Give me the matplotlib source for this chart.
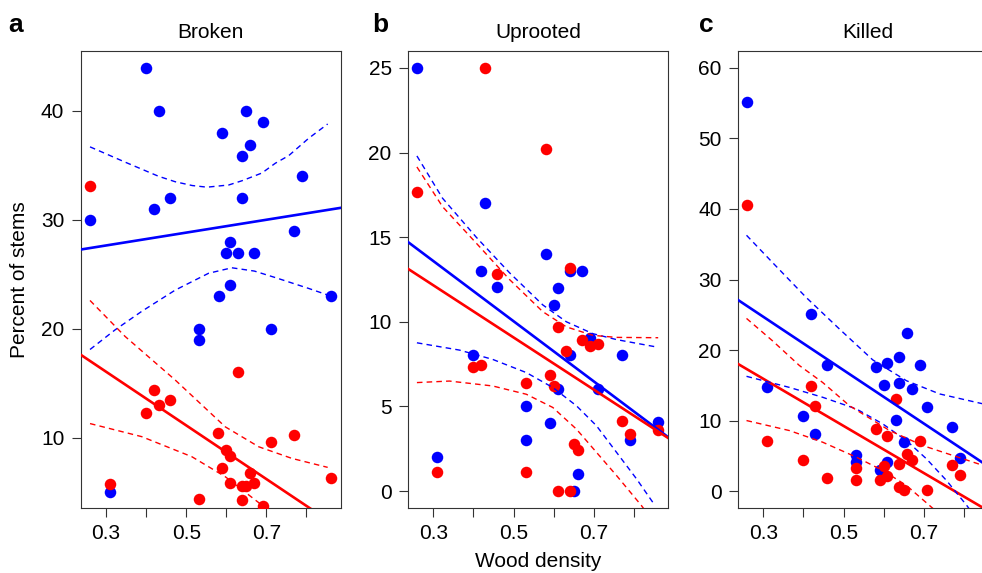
import matplotlib
matplotlib.use("Agg")
import matplotlib.pyplot as plt

plt.rcParams['font.family'] = ['Liberation Sans', 'DejaVu Sans']

BLUE = '#0000FF'
RED = '#FF0000'

# ---------------- Data ----------------
titles = ['Broken', 'Uprooted', 'Killed']
panel_letters = ['a', 'b', 'c']
x_ticks = [0.3, 0.4, 0.5, 0.6, 0.7, 0.8]
x_ticklabels = ['0.3', '', '0.5', '', '0.7', '']

# Panel a: Broken
a_blue_x = [0.399, 0.431, 0.65, 0.691, 0.59, 0.66, 0.64, 0.79, 0.46, 0.64, 0.419, 0.259,
            0.77, 0.61, 0.60, 0.63, 0.67, 0.61, 0.581, 0.861, 0.531, 0.531, 0.711, 0.31]
a_blue_y = [43.9, 40.0, 40.0, 39.0, 38.0, 36.9, 35.9, 34.0, 32.0, 32.0, 31.0, 30.0,
            29.0, 28.0, 27.0, 27.0, 27.0, 24.0, 23.0, 23.0, 20.0, 19.0, 20.0, 5.05]
a_red_x = [0.259, 0.63, 0.419, 0.459, 0.431, 0.399, 0.58, 0.77, 0.711, 0.60, 0.61, 0.59,
           0.66, 0.861, 0.61, 0.64, 0.65, 0.67, 0.31, 0.531, 0.64, 0.691]
a_red_y = [33.1, 16.0, 14.4, 13.46, 13.03, 12.3, 10.46, 10.28, 9.64, 8.87, 8.35, 7.19,
           6.73, 6.3, 5.87, 5.57, 5.57, 5.8, 5.72, 4.35, 4.28, 3.76]
a_blue_fit = [27.28, 31.1]
a_red_fit = [17.6, 1.65]
a_blue_up_x = [0.26, 0.3475, 0.431, 0.4725, 0.515, 0.552, 0.606, 0.64, 0.689, 0.7225, 0.756, 0.806, 0.853]
a_blue_up_y = [36.7, 35.3, 34.0, 33.5, 33.15, 33.0, 33.2, 33.6, 34.3, 35.2, 35.9, 37.5, 38.8]
a_blue_lo_x = [0.26, 0.3225, 0.389, 0.4725, 0.556, 0.614, 0.67, 0.7225, 0.806, 0.861]
a_blue_lo_y = [18.1, 19.9, 21.6, 23.55, 25.1, 25.6, 25.3, 24.7, 23.7, 23.0]
a_red_up_x = [0.26, 0.3475, 0.4725, 0.5975, 0.681, 0.764, 0.853]
a_red_up_y = [22.6, 19.3, 15.3, 11.0, 9.17, 8.1, 7.28]
a_red_lo_x = [0.26, 0.389, 0.514, 0.5975, 0.6725, 0.70, 0.73]
a_red_lo_y = [11.3, 10.1, 8.26, 6.42, 4.28, 3.5, 2.5]

# Panel b: Uprooted
b_blue_x = [0.259, 0.43, 0.581, 0.42, 0.64, 0.67, 0.46, 0.61, 0.60, 0.69, 0.64, 0.771,
            0.398, 0.61, 0.71, 0.53, 0.59, 0.861, 0.791, 0.53, 0.309, 0.66, 0.65]
b_blue_y = [25.0, 17.0, 14.0, 13.02, 13.02, 13.02, 12.04, 12.0, 11.02, 9.04, 8.02, 8.02,
            8.02, 6.02, 6.06, 5.04, 4.02, 4.06, 3.02, 3.02, 2.04, 1.02, 0.0]
b_red_x = [0.43, 0.581, 0.259, 0.46, 0.64, 0.61, 0.67, 0.69, 0.71, 0.63, 0.398, 0.42,
           0.59, 0.53, 0.60, 0.861, 0.771, 0.791, 0.65, 0.66, 0.309, 0.53, 0.61, 0.64]
b_red_y = [25.0, 20.2, 17.66, 12.82, 13.18, 9.7, 8.94, 8.57, 8.66, 8.27, 7.35, 7.43,
           6.86, 6.41, 6.21, 3.62, 4.15, 3.37, 2.78, 2.43, 1.15, 1.15, 0.0, 0.0]
b_blue_fit = [14.7, 3.2]
b_red_fit = [13.12, 3.15]
b_blue_up_x = [0.259, 0.323, 0.407, 0.49, 0.573, 0.632, 0.698, 0.757, 0.853]
b_blue_up_y = [19.8, 17.3, 15.0, 12.9, 11.0, 10.0, 9.3, 8.95, 8.53]
b_blue_lo_x = [0.259, 0.365, 0.448, 0.532, 0.598, 0.657, 0.707, 0.757, 0.807, 0.853]
b_blue_lo_y = [8.76, 8.33, 7.78, 7.0, 6.12, 5.04, 3.86, 2.29, 0.72, -0.85]
b_red_up_x = [0.259, 0.323, 0.407, 0.49, 0.573, 0.632, 0.698, 0.757, 0.861]
b_red_up_y = [19.15, 16.8, 14.65, 12.5, 10.6, 9.7, 9.2, 9.08, 9.06]
b_red_lo_x = [0.259, 0.34, 0.448, 0.532, 0.598, 0.657, 0.707, 0.757, 0.819, 0.83]
b_red_lo_y = [6.41, 6.5, 6.21, 5.72, 4.94, 3.66, 2.29, 0.92, -0.85, -1.2]

# Panel c: Killed
c_blue_x = [0.259, 0.419, 0.658, 0.638, 0.608, 0.58, 0.69, 0.46, 0.309, 0.60, 0.638, 0.67,
            0.708, 0.398, 0.63, 0.77, 0.43, 0.65, 0.79, 0.53, 0.53, 0.608, 0.59]
c_blue_y = [55.2, 25.09, 22.4, 19.05, 18.15, 17.6, 17.83, 17.83, 14.76, 15.0, 15.28, 14.52,
            11.97, 10.7, 10.09, 9.1, 8.1, 7.02, 4.71, 5.14, 4.19, 4.19, 3.01]
c_red_x = [0.259, 0.63, 0.419, 0.43, 0.309, 0.58, 0.608, 0.69, 0.658, 0.67, 0.398, 0.638,
           0.77, 0.79, 0.53, 0.53, 0.46, 0.60, 0.59, 0.608, 0.638, 0.65, 0.708]
c_red_y = [40.56, 13.06, 14.95, 12.03, 7.17, 8.82, 7.87, 7.17, 5.28, 4.47, 4.47, 3.86,
           3.72, 2.31, 3.25, 1.5, 1.88, 3.62, 1.5, 2.12, 0.57, 0.1, 0.1]
c_blue_fit = [27.07, 2.6]
c_red_fit = [18.0, -3.6]
c_blue_up_x = [0.258, 0.323, 0.407, 0.49, 0.573, 0.657, 0.74, 0.861]
c_blue_up_y = [36.27, 32.4, 27.45, 22.97, 18.6, 15.65, 13.77, 12.2]
c_blue_lo_x = [0.258, 0.365, 0.448, 0.532, 0.598, 0.657, 0.707, 0.757, 0.807, 0.82]
c_blue_lo_y = [16.27, 14.7, 13.3, 11.65, 9.52, 7.16, 4.57, 1.5, -2.0, -3.0]
c_red_up_x = [0.258, 0.323, 0.39, 0.448, 0.515, 0.615, 0.698, 0.861]
c_red_up_y = [24.48, 21.3, 17.8, 15.4, 12.1, 8.58, 6.45, 3.4]
c_red_lo_x = [0.258, 0.365, 0.448, 0.532, 0.598, 0.657, 0.719, 0.73]
c_red_lo_y = [10.0, 8.58, 6.93, 4.81, 2.92, 0.8, -2.26, -2.8]

fit_x = [0.2375, 0.885]
x_lim = (0.2375, 0.885)
y_lims = [(3.55, 45.5), (-1.0, 26.0), (-2.4, 62.4)]
y_ticks = [[10, 20, 30, 40], [0, 5, 10, 15, 20, 25], [0, 10, 20, 30, 40, 50, 60]]

panels = [
    dict(bx=a_blue_x, by=a_blue_y, rx=a_red_x, ry=a_red_y, bfit=a_blue_fit, rfit=a_red_fit,
         bands=[(a_blue_up_x, a_blue_up_y, BLUE), (a_blue_lo_x, a_blue_lo_y, BLUE),
                (a_red_up_x, a_red_up_y, RED), (a_red_lo_x, a_red_lo_y, RED)]),
    dict(bx=b_blue_x, by=b_blue_y, rx=b_red_x, ry=b_red_y, bfit=b_blue_fit, rfit=b_red_fit,
         bands=[(b_blue_up_x, b_blue_up_y, BLUE), (b_blue_lo_x, b_blue_lo_y, BLUE),
                (b_red_up_x, b_red_up_y, RED), (b_red_lo_x, b_red_lo_y, RED)]),
    dict(bx=c_blue_x, by=c_blue_y, rx=c_red_x, ry=c_red_y, bfit=c_blue_fit, rfit=c_red_fit,
         bands=[(c_blue_up_x, c_blue_up_y, BLUE), (c_blue_lo_x, c_blue_lo_y, BLUE),
                (c_red_up_x, c_red_up_y, RED), (c_red_lo_x, c_red_lo_y, RED)]),
]

# ---------------- Figure ----------------
W, H = 982, 573
fig = plt.figure(figsize=(W / 100, H / 100), dpi=100)

ax_left_px = [81, 408.3, 738.3]
ax_w_px = 259.5
ax_top_px, ax_bot_px = 51, 508
letter_x_px = [8, 372, 699]

for i, p in enumerate(panels):
    ax = fig.add_axes([ax_left_px[i] / W, 1 - ax_bot_px / H,
                       ax_w_px / W, (ax_bot_px - ax_top_px) / H])
    ax.plot(p['bx'], p['by'], 'o', color=BLUE, ms=8.3, mew=0, zorder=3)
    ax.plot(p['rx'], p['ry'], 'o', color=RED, ms=8.3, mew=0, zorder=4)
    ax.plot(fit_x, p['bfit'], '-', color=BLUE, lw=1.9, zorder=5)
    ax.plot(fit_x, p['rfit'], '-', color=RED, lw=1.9, zorder=5)
    for bx_, by_, col in p['bands']:
        ax.plot(bx_, by_, color=col, lw=1.0, dashes=(4, 3), zorder=5)
    ax.set_xlim(*x_lim)
    ax.set_ylim(*y_lims[i])
    ax.set_xticks(x_ticks)
    ax.set_xticklabels(x_ticklabels)
    ax.set_yticks(y_ticks[i])
    ax.set_yticklabels([str(t) for t in y_ticks[i]])
    ax.tick_params(axis='both', direction='out', length=6.5, width=0.8,
                   color='#333333', labelsize=15, labelcolor='black')
    ax.tick_params(axis='x', pad=5)
    ax.tick_params(axis='y', pad=5.5)
    for s in ax.spines.values():
        s.set_linewidth(0.8)
        s.set_color('#333333')
    ax.set_title(titles[i], fontsize=15, pad=9)
    fig.text(letter_x_px[i] / W, 1 - 32 / H, panel_letters[i], fontsize=19,
             fontweight='bold', ha='left', va='baseline')

fig.text(20 / W, 1 - 279.5 / H, 'Percent of stems', rotation=90, fontsize=15,
         ha='center', va='center')
fig.text(538 / W, 1 - 567 / H, 'Wood density', fontsize=15, ha='center', va='baseline')

fig.savefig('out.png', dpi=100)
